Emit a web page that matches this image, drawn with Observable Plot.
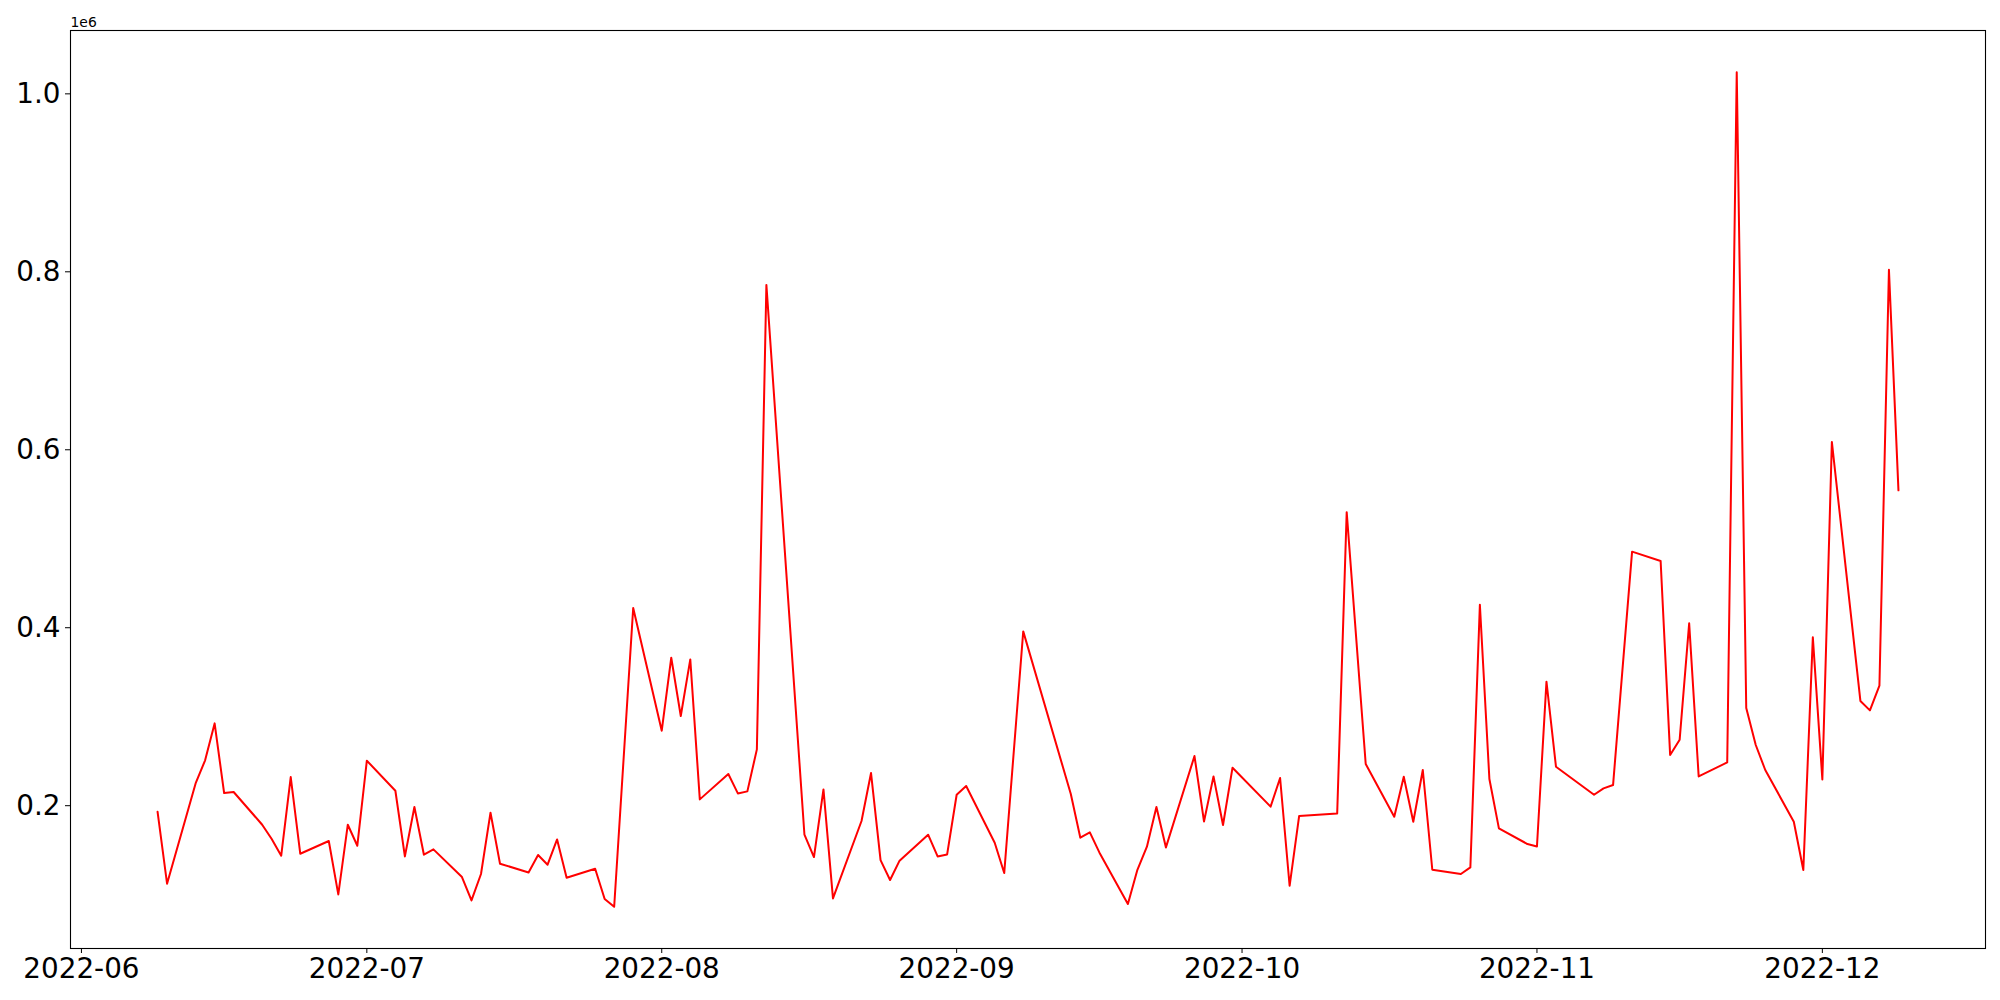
<!DOCTYPE html>
<html>
<head>
<meta charset="utf-8">
<script src="https://cdn.jsdelivr.net/npm/d3@7"></script>
<script src="https://cdn.jsdelivr.net/npm/@observablehq/plot@0.6"></script>
<style>
  html, body { margin: 0; padding: 0; background: #ffffff; }
  #chart svg { display: block; }
</style>
</head>
<body>
<div id="chart"></div>
<script>
// Dates (weekdays) of the series
const dates = [
  "2022-06-09","2022-06-10","2022-06-13","2022-06-14","2022-06-15","2022-06-16","2022-06-17",
  "2022-06-20","2022-06-21","2022-06-22","2022-06-23","2022-06-24","2022-06-27","2022-06-28",
  "2022-06-29","2022-06-30",
  "2022-07-01","2022-07-04","2022-07-05","2022-07-06","2022-07-07","2022-07-08","2022-07-11",
  "2022-07-12","2022-07-13","2022-07-14","2022-07-15","2022-07-18","2022-07-19","2022-07-20",
  "2022-07-21","2022-07-22","2022-07-25","2022-07-26","2022-07-27","2022-07-29",
  "2022-08-01","2022-08-02","2022-08-03","2022-08-04","2022-08-05","2022-08-08","2022-08-09",
  "2022-08-10","2022-08-11","2022-08-12","2022-08-16","2022-08-17","2022-08-18","2022-08-19",
  "2022-08-22","2022-08-23","2022-08-24","2022-08-25","2022-08-26","2022-08-29","2022-08-30",
  "2022-08-31",
  "2022-09-01","2022-09-02","2022-09-05","2022-09-06","2022-09-08","2022-09-13","2022-09-14",
  "2022-09-15","2022-09-16","2022-09-19","2022-09-20","2022-09-21","2022-09-22","2022-09-23",
  "2022-09-26","2022-09-27","2022-09-28","2022-09-29","2022-09-30",
  "2022-10-04","2022-10-05","2022-10-06","2022-10-07","2022-10-11","2022-10-12","2022-10-14",
  "2022-10-17","2022-10-18","2022-10-19","2022-10-20","2022-10-21","2022-10-24","2022-10-25",
  "2022-10-26","2022-10-27","2022-10-28","2022-10-31",
  "2022-11-01","2022-11-02","2022-11-03","2022-11-07","2022-11-08","2022-11-09","2022-11-11",
  "2022-11-14","2022-11-15","2022-11-16","2022-11-17","2022-11-18","2022-11-21","2022-11-22",
  "2022-11-23","2022-11-24","2022-11-25","2022-11-28","2022-11-29","2022-11-30",
  "2022-12-01","2022-12-02","2022-12-05","2022-12-06","2022-12-07","2022-12-08","2022-12-09"
];

// Values, same order as dates
const values = [
  193200,112300,225000,251000,292500,214200,215400,
  178600,162500,143800,232200,146000,160300,100300,
  178600,155000,
  250600,216800,143000,198500,144900,150900,119800,
  93500,123200,192100,134800,125000,144600,133700,
  162100,119000,129100,95100,86400,422200,
  284300,366300,300800,364400,207100,235600,213800,
  216100,263300,785300,167400,142300,218300,95800,
  182800,236700,138900,116500,138200,167400,143000,
  145200,
  212300,222100,158400,124300,395900,213100,164000,
  170000,147500,89500,128000,153900,198500,153100,
  255800,182300,232900,178300,242700,
  198900,231100,110000,188400,191300,529900,246900,
  187600,232600,182000,240100,128000,123200,130600,
  425900,230000,174500,156900,
  154200,339400,243800,212300,219400,223200,485500,
  475000,257000,274200,404900,232900,248600,1024300,
  309800,268200,240100,182000,127700,389200,
  229500,608800,317700,307100,334900,802200,554400
];

// Tick labels
const monthTicks = ["2022-06","2022-07","2022-08","2022-09","2022-10","2022-11","2022-12"];
const yTicks = [200000, 400000, 600000, 800000, 1000000];
const offsetLabel = ["1e6"];

const n = Math.min(dates.length, values.length);
const data = d3.range(n).map(i => ({date: new Date(dates[i] + "T00:00:00Z"), value: values[i]}));

// matplotlib-like 5% margins
const xExt = d3.extent(data, d => +d.date);
const xPad = (xExt[1] - xExt[0]) * 0.05;
const xDomain = [new Date(xExt[0] - xPad), new Date(xExt[1] + xPad)];
const yExt = d3.extent(data, d => d.value);
const yPad = (yExt[1] - yExt[0]) * 0.05;
const yDomain = [yExt[0] - yPad, yExt[1] + yPad];

const chart = Plot.plot({
  width: 2000,
  height: 1000,
  marginLeft: 70,
  marginRight: 15,
  marginTop: 30,
  marginBottom: 52,
  style: {fontFamily: "DejaVu Sans", fontSize: "27.8px", background: "#ffffff", color: "#000000", overflow: "visible"},
  x: {
    type: "utc",
    domain: xDomain,
    ticks: monthTicks.map(m => new Date(m + "-01T00:00:00Z")),
    tickFormat: d3.utcFormat("%Y-%m"),
    label: null,
    tickSize: 5,
    tickPadding: 5
  },
  y: {
    domain: yDomain,
    ticks: yTicks,
    tickFormat: d => (d / 1e6).toFixed(1),
    label: null,
    tickSize: 5,
    tickPadding: 5
  },
  marks: [
    Plot.line(data, {x: "date", y: "value", stroke: "#ff0000", strokeWidth: 2}),
    Plot.frame({stroke: "#000000", strokeWidth: 1.1}),
    Plot.text(offsetLabel, {text: d => d, frameAnchor: "top-left", textAnchor: "start", lineAnchor: "bottom", dy: -4, fontSize: 13.9})
  ]
});
document.getElementById("chart").appendChild(chart);
</script>
</body>
</html>
